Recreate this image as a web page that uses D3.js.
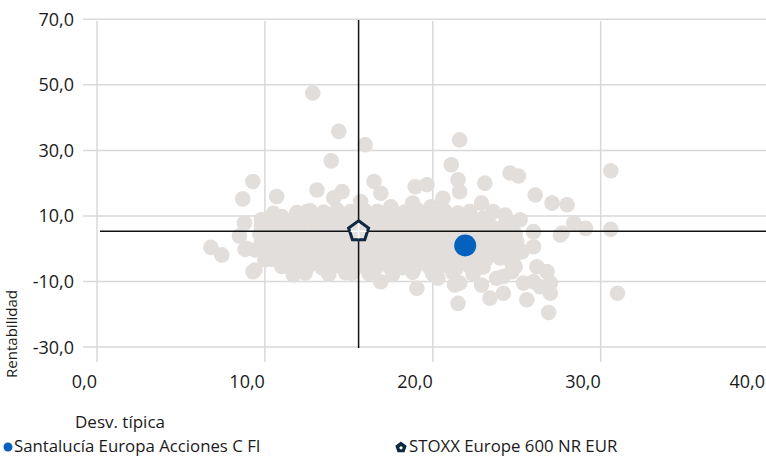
<!DOCTYPE html>
<html><head><meta charset="utf-8">
<script src="https://cdn.jsdelivr.net/npm/d3@7"></script>
<style>
html,body{margin:0;padding:0;background:#fff;}
svg{display:block;font-family:"Open Sans",sans-serif;}
</style></head>
<body><svg id="chart" width="766" height="459"></svg>
<script>
const xTicks = [0, 10, 20, 30, 40];
const yTicks = [-30, -10, 10, 30, 50, 70];
const xTitle = "Desv. típica";
const yTitle = "Rentabilidad";
const fundName = "Santalucía Europa Acciones C FI";
const fundPoint = [21.93, 1.0];
const benchName = "STOXX Europe 600 NR EUR";
const benchPoint = [15.58, 5.3];
// peer universe [risk, return]
const peers = [
  // dense core
  [11.9,11.0],[12.7,11.6],[13.5,11.2],[14.3,11.8],[15.1,11.3],[15.9,11.9],[16.7,11.4],[17.5,11.8],[18.3,11.1],[19.1,11.7],[19.9,11.0],[20.7,11.6],[21.5,10.9],[22.2,11.3],
  [10.2,9.3],[11.0,9.8],[11.8,9.4],[12.6,9.9],[13.4,9.2],[14.2,9.7],[15.0,9.5],[15.8,9.9],[16.6,9.3],[17.4,9.8],[18.2,9.4],[19.0,9.9],[19.8,9.2],[20.6,9.7],[21.4,9.4],[22.2,9.8],[23.0,9.3],
  [9.8,6.8],[10.6,7.3],[11.4,6.9],[12.2,7.4],[13.0,6.7],[13.8,7.2],[14.6,6.9],[15.4,7.3],[16.2,6.8],[17.0,7.2],[17.8,6.7],[18.6,7.3],[19.4,6.9],[20.2,7.2],[21.0,6.8],[21.8,7.3],[22.6,6.9],[23.4,7.2],[24.2,6.8],
  [9.7,4.4],[10.5,4.8],[11.3,4.3],[12.1,4.7],[12.9,4.2],[13.7,4.8],[14.5,4.4],[15.3,4.1],[16.1,4.7],[16.9,4.3],[17.7,4.8],[18.5,4.2],[19.3,4.6],[20.1,4.3],[20.9,4.8],[21.7,4.4],[22.5,4.7],[23.3,4.2],[24.1,4.6],[24.9,4.3],
  [9.8,1.8],[10.6,2.2],[11.4,1.7],[12.2,2.3],[13.0,1.9],[13.8,2.2],[14.6,1.6],[15.4,2.1],[16.2,1.8],[17.0,2.3],[17.8,1.7],[18.6,2.2],[19.4,1.9],[20.2,2.3],[21.0,1.7],[21.8,2.1],[22.6,1.8],[23.4,2.2],[24.2,1.9],[25.0,2.1],
  [10.1,-0.7],[10.9,-0.2],[11.7,-0.8],[12.5,-0.3],[13.3,-0.6],[14.1,-0.1],[14.9,-0.7],[15.7,-0.3],[16.5,-0.8],[17.3,-0.2],[18.1,-0.6],[18.9,-0.1],[19.7,-0.7],[20.5,-0.3],[21.3,-0.8],[22.9,-0.4],[23.7,-0.7],[24.5,-0.2],
  [10.4,-3.2],[11.2,-2.8],[12.0,-3.3],[12.8,-2.7],[13.6,-3.1],[14.4,-2.6],[15.2,-3.3],[16.0,-2.9],[16.8,-3.2],[17.6,-2.7],[18.4,-3.1],[19.2,-2.8],[20.0,-3.3],[20.8,-2.9],[21.6,-3.2],[22.4,-2.7],[23.2,-3.1],[24.0,-2.8],
  [11.0,-5.4],[11.8,-5.9],[12.6,-5.3],[13.4,-5.8],[14.2,-5.2],[15.0,-5.7],[15.8,-5.3],[16.6,-5.9],[17.4,-5.4],[18.2,-5.8],[19.0,-5.3],[19.8,-5.7],[20.6,-5.2],[21.4,-5.8],[22.2,-5.4],[23.0,-5.6],
  [12.4,-7.4],[13.8,-7.8],[14.8,-7.3],[16.2,-7.6],[17.6,-7.9],[18.8,-7.2],[20.0,-7.7],[21.2,-7.4],[22.4,-7.8],
  // upper edge bumps
  [13.1,17.9],[14.6,17.4],[16.5,20.5],[16.9,16.9],[18.95,18.9],[19.65,19.5],[20.6,15.4],[21.5,21.0],[21.6,17.4],[22.9,13.9],[23.1,20.0],
  [23.6,11.3],[24.3,10.3],[24.8,7.8],[25.2,8.8],[10.7,15.9],[10.5,10.8],[9.8,8.8],[12.5,11.3],[14.1,15.5],[15.7,14.4],[17.5,12.8],[18.8,13.9],[19.9,12.8],
  // lower / right edge bumps
  [13.5,-5.0],[15.2,-7.5],[16.9,-10.1],[19.05,-12.1],[20.3,-9.0],[21.6,-10.5],[21.5,-16.7],[22.9,-11.1],[23.4,-15.1],[24.2,-13.6],[25.6,-15.6],
  [26.0,-10.1],[27.0,-10.5],[26.8,-7.0],[26.2,-5.5],[24.9,-5.5],[25.0,-1.4],[26.0,0.6],[26.0,5.2],[24.7,-7.0],[24.2,-8.5],[23.8,-9.0],
  [25.4,-10.5],[26.4,-11.6],[27.0,-13.6],[26.9,-19.5],[21.3,-11.1],[11.7,-8.0],[9.3,-7.0],[9.4,-6.5],[10.0,-3.4],[25.3,-0.9],[24.7,-4.4],
  // outliers
  [31.0,-13.6],[30.6,5.9],[29.1,6.2],[28.4,7.8],[27.6,4.2],[27.7,4.8],[30.6,23.8],[27.1,13.9],[28.0,13.4],[26.1,16.4],[24.6,23.1],[25.1,22.2],
  [21.1,25.6],[21.6,33.2],[15.97,31.7],[14.4,35.8],[13.95,26.8],[12.85,47.5],
  [9.28,20.5],[8.68,15.2],[8.78,7.8],[8.48,3.9],[8.82,-0.2],[9.42,-0.4],[6.78,0.4],[7.43,-1.9],[8.9,0.1]
];

const svg = d3.select("#chart");
const x = d3.scaleLinear().domain([0, 40]).range([97, 768.6]);
const y = d3.scaleLinear().domain([-30, 70]).range([347, 19.3]);
const fmt = v => d3.format(".1f")(v).replace(".", ",").replace("\u2212", "-");
const gridCol = "#d9d9d9";

// horizontal grid
svg.append("g").selectAll("line").data(yTicks).join("line")
  .attr("x1", 83).attr("x2", 766)
  .attr("y1", d => y(d)).attr("y2", d => y(d))
  .attr("stroke", gridCol).attr("stroke-width", 1.5);
// vertical grid
svg.append("g").selectAll("line").data(xTicks).join("line")
  .attr("x1", d => x(d)).attr("x2", d => x(d))
  .attr("y1", 21).attr("y2", 362)
  .attr("stroke", gridCol).attr("stroke-width", 1.5);

// tick labels
svg.append("g").selectAll("text").data(yTicks).join("text")
  .attr("x", 74).attr("y", d => y(d) + 6.5)
  .attr("text-anchor", "end").attr("font-size", 18).attr("fill", "#1a1a1a")
  .text(fmt);
svg.append("g").selectAll("text").data(xTicks).join("text")
  .attr("x", d => Math.min(x(d), 765)).attr("y", 388)
  .attr("text-anchor", "end").attr("font-size", 18).attr("fill", "#1a1a1a")
  .text(fmt);

// axis titles
svg.append("text").attr("x", 75).attr("y", 428).attr("font-size", 17).attr("fill", "#1a1a1a").text(xTitle);
svg.append("text").attr("transform", "translate(17,334) rotate(-90)")
  .attr("text-anchor", "middle").attr("font-size", 15).attr("fill", "#1a1a1a").text(yTitle);

// peers
svg.append("g").selectAll("circle").data(peers).join("circle")
  .attr("cx", d => x(d[0])).attr("cy", d => y(d[1])).attr("r", 7.8)
  .attr("fill", "#e2dedc");

// crosshair
svg.append("line").attr("x1", x(benchPoint[0])).attr("x2", x(benchPoint[0]))
  .attr("y1", 20).attr("y2", 348).attr("stroke", "#111").attr("stroke-width", 1.5);
svg.append("line").attr("x1", 100).attr("x2", 766)
  .attr("y1", y(benchPoint[1])).attr("y2", y(benchPoint[1])).attr("stroke", "#111").attr("stroke-width", 1.5);

// fund
svg.append("circle").attr("cx", x(fundPoint[0])).attr("cy", y(fundPoint[1])).attr("r", 11).attr("fill", "#0461be");

// benchmark pentagon
function pent(cx, cy, R) {
  const pts = d3.range(5).map(i => {
    const a = -Math.PI / 2 + i * 2 * Math.PI / 5;
    return [cx + R * Math.cos(a), cy + R * Math.sin(a)];
  });
  return "M" + pts.map(p => p.join(",")).join("L") + "Z";
}
const bx = x(benchPoint[0]), by = y(benchPoint[1]);
svg.append("path").attr("d", pent(bx, by, 10.5)).attr("fill", "#e4e0de")
  .attr("stroke", "#0e2841").attr("stroke-width", 3).attr("stroke-linejoin", "miter");
svg.append("line").attr("x1", bx).attr("x2", bx).attr("y1", by - 8).attr("y2", by + 7).attr("stroke", "#fff").attr("stroke-width", 1.5);
svg.append("line").attr("x1", bx - 8).attr("x2", bx + 8).attr("y1", by).attr("y2", by).attr("stroke", "#fff").attr("stroke-width", 1.5);

// legend
svg.append("circle").attr("cx", 8).attr("cy", 447).attr("r", 4.5).attr("fill", "#0461be");
svg.append("text").attr("x", 14).attr("y", 452).attr("font-size", 16.8).attr("fill", "#1a1a1a").text(fundName);
svg.append("path").attr("d", pent(401, 447.5, 5)).attr("fill", "#0e2841").attr("stroke", "#0e2841").attr("stroke-width", 1.5);
svg.append("circle").attr("cx", 401).attr("cy", 447.8).attr("r", 1.6).attr("fill", "#fff");
svg.append("text").attr("x", 409).attr("y", 452).attr("font-size", 16.8).attr("fill", "#1a1a1a").text(benchName);
</script>
</body></html>
